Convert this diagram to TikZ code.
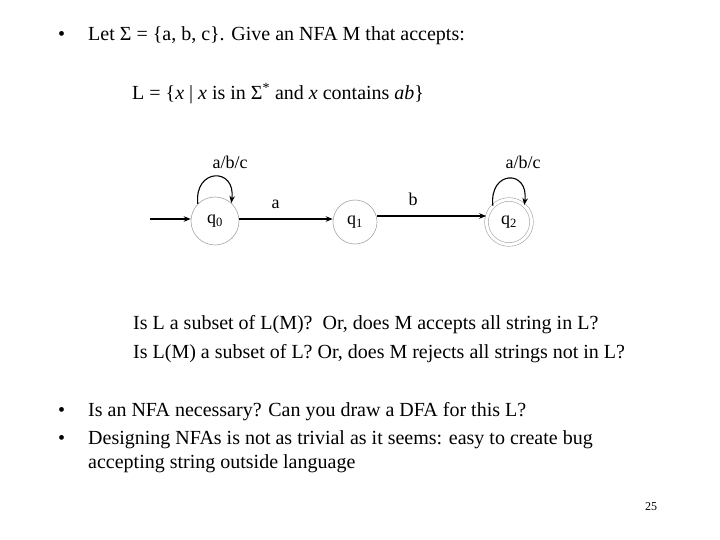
\documentclass[tikz,border=0pt]{standalone}
\usepackage{fontspec}
\setmainfont{Liberation Serif}
\usetikzlibrary{arrows.meta}
\begin{document}
\begin{tikzpicture}[x=1pt, y=-1pt, font=\fontsize{20}{24}\selectfont, line join=round, >={Stealth[length=7pt,width=5.5pt]}]
  \tikzset{state/.style={circle, draw=gray!70, line width=0.6pt, minimum size=48pt, inner sep=0pt, font=\fontsize{18}{22}\selectfont},
           txt/.style={anchor=base west, inner sep=0pt},
           lbl/.style={font=\fontsize{18}{22}\selectfont, inner sep=0pt},
           edge/.style={->, line width=1.1pt}}
  \useasboundingbox (0,0) rectangle (720,540);
  % heading
  \node[txt] (dot1) at (58,41) {•};
  \node[txt] (task) at (88,41) {Let Σ = \{a, b, c\}. Give an NFA M that accepts:};
  \node[txt] (lang) at (132,100) {L = \{\textit{x} | \textit{x} is in Σ\textsuperscript{*} and \textit{x} contains \textit{ab}\}};
  % automaton
  \node[state] (q0) at (215,221) {q\textsubscript{0}};
  \node[state, minimum size=44pt] (q1) at (355,222) {q\textsubscript{1}};
  \node[state, double=white, double distance=3pt, minimum size=45pt] (q2) at (509,222) {q\textsubscript{2}};
  \coordinate (start) at (150,219);
  \draw[edge] (start) -- (q0.west |- start);
  \draw[edge] (q0.east |- start) -- node[lbl, pos=0.39, above=10pt] (la) {a} (q1.west |- start);
  \draw[edge] (q1.east |- 0,216) -- node[lbl, pos=0.33, above=10pt] (lb) {b} (q2.west |- 0,216);
  \draw[edge] (q0.135) .. controls +(-4,-36) and +(5,-36) .. (q0.48);
  \draw[edge] (q2.135) .. controls +(-4,-36) and +(5,-36) .. (q2.48);
  \node[lbl] (loop0) at (230,162) {a/b/c};
  \node[lbl] (loop2) at (523,162) {a/b/c};
  % questions
  \node[txt] (ask1) at (133,329) {Is L a subset of L(M)?\ \ Or, does M accepts all string in L?};
  \node[txt] (ask2) at (133,358) {Is L(M) a subset of L? Or, does M rejects all strings not in L?};
  \node[txt] (dot2) at (58,416) {•};
  \node[txt] (note1) at (88,416) {Is an NFA necessary? Can you draw a DFA for this L?};
  \node[txt] (dot3) at (58,444) {•};
  \node[txt] (note2) at (88,444) {Designing NFAs is not as trivial as it seems: easy to create bug};
  \node[txt] (note3) at (88,468) {accepting string outside language};
  \node[txt, font=\fontsize{12}{14}\selectfont] (page) at (645,510) {25};
\end{tikzpicture}
\end{document}
